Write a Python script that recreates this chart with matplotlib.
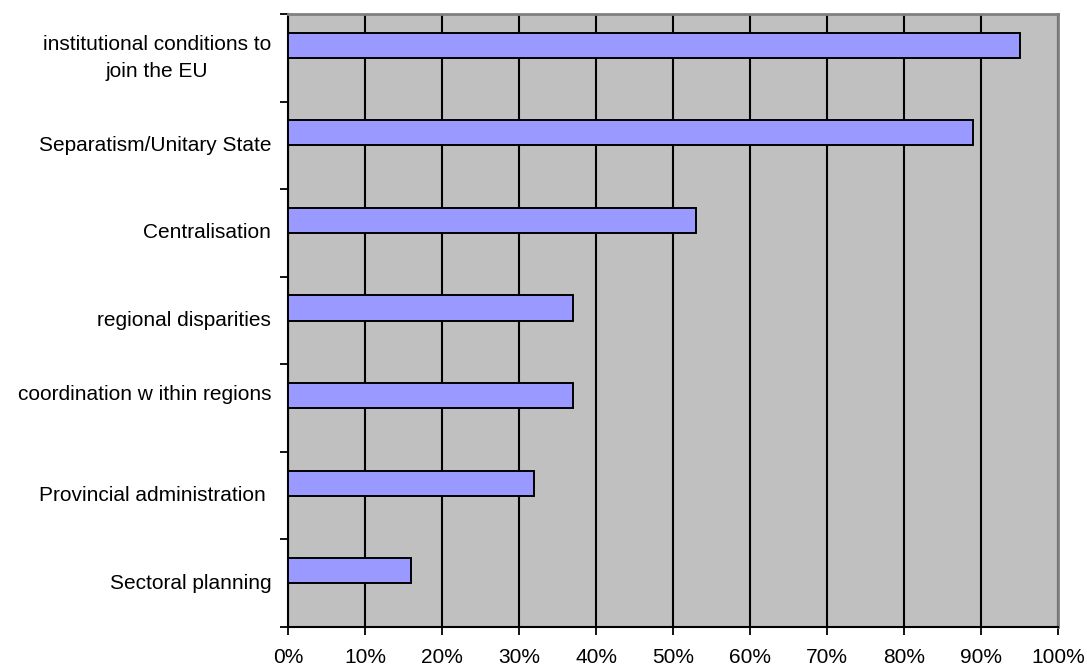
import matplotlib.pyplot as plt
import numpy as np

plt.rcParams['font.family'] = ['Liberation Sans', 'DejaVu Sans']

categories = ['institutional conditions to\njoin the EU', 'Separatism/Unitary State',
              'Centralisation', 'regional disparities', 'coordination w ithin regions\n ',
              'Provincial administration ', 'Sectoral planning']
values = [95, 89, 53, 37, 37, 32, 16]
xticks = list(range(0, 101, 10))

fig = plt.figure(figsize=(10.87, 6.66), dpi=100)
ax = fig.add_axes([288 / 1087, 1 - 627 / 666, 770 / 1087, 613 / 666])
ax.set_facecolor('#C0C0C0')

n = len(categories)
pos = np.arange(n)
# bars sit in the upper half of each category slot (Excel clustered style)
ax.barh(pos - 0.143, values, height=0.286, color='#9999FF', edgecolor='black',
        linewidth=1.4, zorder=3)

ax.set_xlim(0, 100)
ax.set_ylim(n - 0.5, -0.5)
ax.set_xticks(xticks)
ax.set_xticklabels([f'{t}%' for t in xticks])
ax.grid(axis='x', color='black', linewidth=1.5, zorder=1)

ax.set_yticks(np.arange(n + 1) - 0.5)
ax.set_yticklabels([])
ax.set_yticks(pos, minor=True)
ax.set_yticklabels(categories, minor=True, multialignment='center',
                   linespacing=1.5, va='center')
ax.tick_params(axis='y', which='minor', length=0, pad=12, labelsize=15)
ax.tick_params(axis='y', which='major', length=6, width=1.3, direction='out')
ax.tick_params(axis='x', length=6, width=1.3, direction='out', pad=9, labelsize=15)

for side in ['left', 'bottom']:
    ax.spines[side].set_linewidth(1.5)
    ax.spines[side].set_color('black')
for side in ['right', 'top']:
    ax.spines[side].set_linewidth(2)
    ax.spines[side].set_color('#808080')

fig.savefig('out.png', dpi=100)
